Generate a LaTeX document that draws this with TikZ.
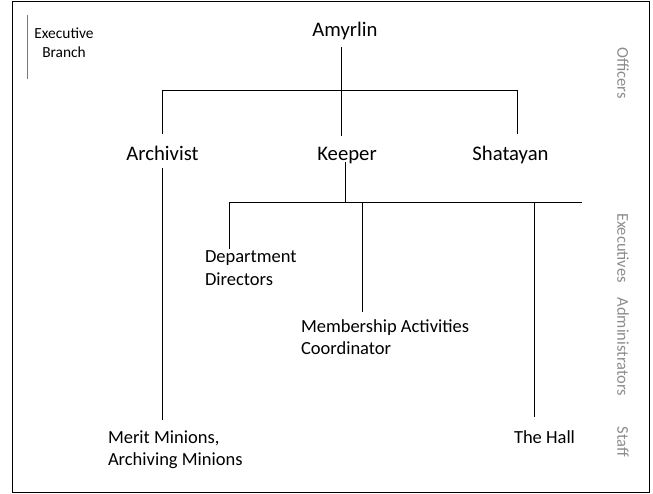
\documentclass[tikz,border=0pt]{standalone}
\usepackage{fontspec}
\setmainfont{Carlito}
\usepackage{xcolor}
\usepackage{tikz}

\definecolor{rankgray}{RGB}{140,140,140}
\definecolor{branchblue}{RGB}{95,125,155}
\newcommand\topsize{\fontsize{20.7}{24}\selectfont}
\newcommand\lowsize{\fontsize{18.5}{22.5}\selectfont}
\newcommand\ranksize{\fontsize{16.5}{20}\selectfont}
\newcommand\branchsize{\fontsize{15.4}{19}\selectfont}

\begin{document}
\begin{tikzpicture}[x=1pt, y=-1pt, line width=1pt,
        nodes={inner sep=0pt, outer sep=0pt},
        officer/.style={font=\topsize, anchor=base},
        member/.style={font=\lowsize, anchor=base west, align=left},
        rank/.style={font=\ranksize, text=rankgray, rotate=-90}]
        \useasboundingbox (0,0) rectangle (653,494);
        \draw (12,2) rectangle (649,492);

        \node[font=\branchsize, align=center, anchor=base] (branch) at (64,58) {Executive\\Branch};
        \draw[branchblue] (27,15) -- (27,79);

        \node[officer] (amyrlin) at (345,37) {Amyrlin};
        \node[officer] (archivist) at (162.5,161) {Archivist};
        \node[officer] (keeper) at (347,161) {Keeper};
        \node[officer] (shatayan) at (510.5,161) {Shatayan};

        \node[member] (directors) at (205,285.2) {Department\\Directors};
        \node[member] (coordinator) at (301,354.5) {Membership Activities\\Coordinator};
        \node[member] (minions) at (108,465.5) {Merit Minions,\\Archiving Minions};
        \node[member] (hall) at (514,443) {The Hall};

        \node[rank] (officers) at (623,73) {Officers};
        \node[rank] (executives) at (623,248) {Executives};
        \node[rank] (administrators) at (623,347) {Administrators};
        \node[rank] (staff) at (623,442) {Staff};

        \coordinate (busA) at (341,91);
        \coordinate (busAl) at (162,91);
        \coordinate (busAr) at (517,91);
        \coordinate (busB) at (345,203);
        \coordinate (busBl) at (229,203);
        \coordinate (busBr) at (582,203);
        \coordinate (dropC) at (362.5,203);
        \coordinate (dropH) at (534,203);

        \draw ([yshift=-7pt]amyrlin.south -| busA) -- (busA);
        \draw ([yshift=13pt]archivist.north -| busAl) -- (busAl) -- (busAr) -- ([yshift=13pt]shatayan.north -| busAr);
        \draw (busA) -- ([yshift=12pt]keeper.north -| busA);

        \draw ([yshift=-1pt]keeper.base -| busB) -- (busB);
        \draw ([yshift=2pt]directors.north -| busBl) -- (busBl) -- (busBr);
        \draw (dropC) -- ([yshift=7.5pt]coordinator.north -| dropC);
        \draw (dropH) -- ([yshift=13pt]hall.north -| dropH);
        \draw ([yshift=-7pt]archivist.south) -- ([yshift=10pt]minions.north -| archivist.south);
\end{tikzpicture}
\end{document}
